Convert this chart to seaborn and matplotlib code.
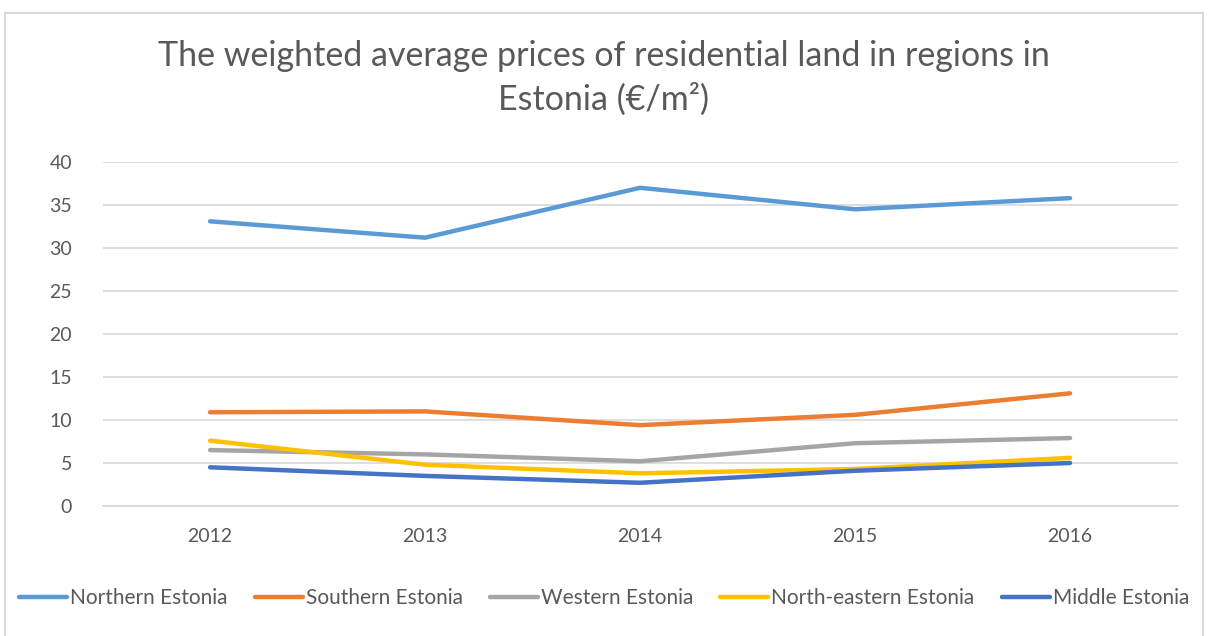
import numpy as np
import pandas as pd
import matplotlib
matplotlib.use("Agg")
import matplotlib.pyplot as plt
import seaborn as sns
from matplotlib.patches import Rectangle

years = ["2012", "2013", "2014", "2015", "2016"]
regions = ["Northern Estonia", "Southern Estonia", "Western Estonia",
           "North-eastern Estonia", "Middle Estonia"]
northern = [33.1, 31.2, 37.0, 34.5, 35.8]
southern = [10.9, 11.0, 9.4, 10.6, 13.1]
western = [6.5, 6.0, 5.2, 7.3, 7.9]
north_eastern = [7.6, 4.8, 3.8, 4.3, 5.6]
middle = [4.5, 3.5, 2.7, 4.1, 5.0]
colors = ["#5B9BD5", "#ED7D31", "#A5A5A5", "#FFC000", "#4472C4"]

series = [northern, southern, western, north_eastern, middle]
df = pd.concat([pd.DataFrame({"year": years, "price": vals, "region": name})
                for name, vals in zip(regions, series)], ignore_index=True)

sns.set_theme(style="white")
plt.rcParams['font.family'] = ['Lato', 'DejaVu Sans']

fig = plt.figure(figsize=(12.08, 6.36), dpi=100)
ax = fig.add_axes([0.0849, 0.2044, 0.8899, 0.5409])

sns.lineplot(data=df, x="year", y="price", hue="region", palette=colors,
             linewidth=3.2, ax=ax, legend=False, sort=False)
for line in ax.lines:
    line.set_solid_capstyle("round")

ax.set_xlim(-0.5, 4.5)
ax.set_ylim(0, 40)
ax.set_yticks(np.arange(0, 41, 5))
ax.yaxis.grid(True, color="#D9D9D9", linewidth=1.2)
ax.set_axisbelow(True)
for s in ["top", "right", "left"]:
    ax.spines[s].set_visible(False)
ax.spines["bottom"].set_color("#D9D9D9")
ax.spines["bottom"].set_linewidth(1.2)
ax.tick_params(axis="both", length=0, labelsize=14, labelcolor="#595959")
ax.tick_params(axis="x", pad=16)
ax.tick_params(axis="y", pad=22)
ax.set_xlabel("")
ax.set_ylabel("")

fig.text(0.5, 0.878, "The weighted average prices of residential land in regions in\nEstonia (€/m²)",
         ha="center", va="center", fontsize=24.5, color="#595959", linespacing=1.4)

handles = [plt.Line2D([], [], color=c, linewidth=3.2, solid_capstyle="round") for c in colors]
fig.legend(handles, regions, loc="center", bbox_to_anchor=(0.5, 0.06), ncol=5,
           frameon=False, fontsize=15, labelcolor="#595959", handlelength=2.3,
           handletextpad=0.15, columnspacing=1.3)

fig.patches.append(Rectangle((0.004, -0.01), 0.992, 0.99, transform=fig.transFigure,
                             fill=False, edgecolor="#D9D9D9", linewidth=1.5))

fig.savefig("out.png", dpi=100, facecolor="white")
